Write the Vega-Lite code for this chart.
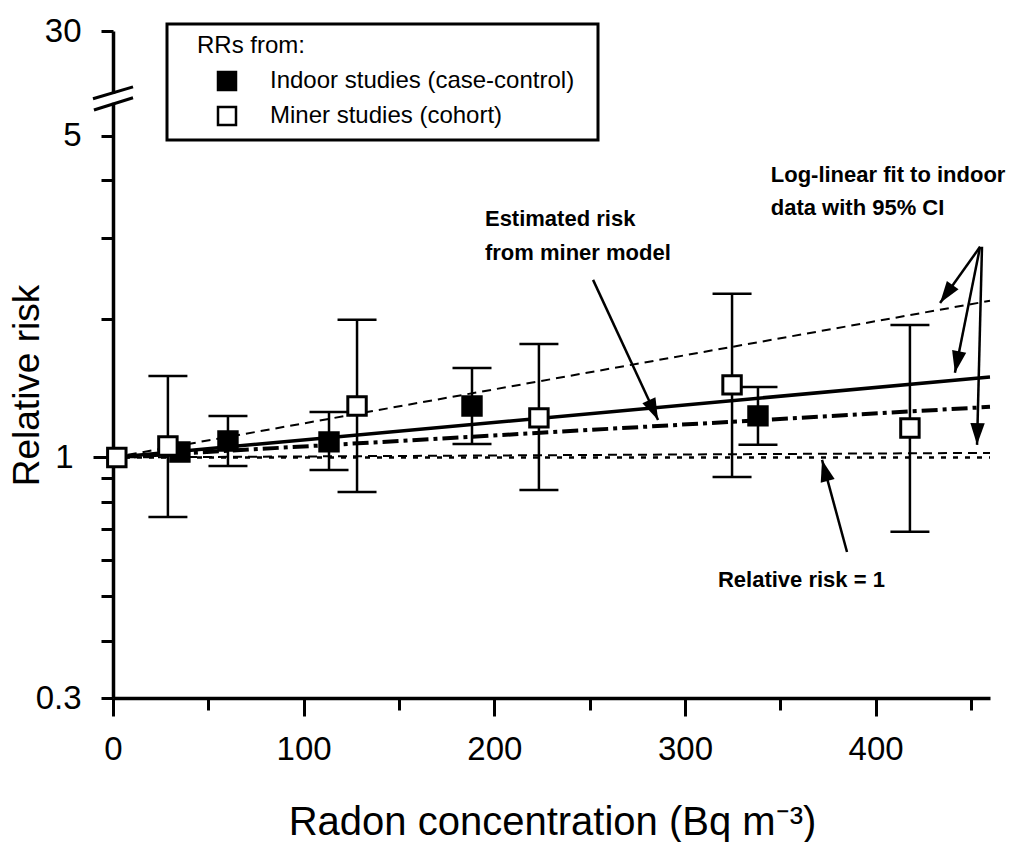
{
  "$schema": "https://vega.github.io/schema/vega-lite/v6.json",
  "width": 877,
  "height": 667,
  "autosize": {"type": "none"},
  "padding": {"left": 113, "top": 31, "right": 24, "bottom": 144},
  "background": "white",
  "config": {
    "view": {"stroke": null},
    "font": "Liberation Sans",
    "axis": {"domainColor": "black", "tickColor": "black", "labelColor": "black", "titleColor": "black", "labelFont": "Liberation Sans", "titleFont": "Liberation Sans", "grid": false, "titleFontWeight": "normal"},
    "legend": {"strokeWidth": 3}
  },
  "datasets": {
    "lines": [
      {"series": "upper95", "x": 0, "y": 1}, {"series": "upper95", "x": 460, "y": 2.19},
      {"series": "fit", "x": 0, "y": 1}, {"series": "fit", "x": 460, "y": 1.496},
      {"series": "lower95", "x": 0, "y": 1}, {"series": "lower95", "x": 460, "y": 1.023},
      {"series": "miner", "x": 0, "y": 1}, {"series": "miner", "x": 460, "y": 1.288},
      {"series": "rr1", "x": 0, "y": 1}, {"series": "rr1", "x": 460, "y": 1}
    ],
    "points": [
      {"type": "Indoor studies (case-control)", "x": 35.1, "y": 1.028, "lo": null, "hi": null},
      {"type": "Indoor studies (case-control)", "x": 60.3, "y": 1.086, "lo": 0.958, "hi": 1.231},
      {"type": "Indoor studies (case-control)", "x": 113.3, "y": 1.081, "lo": 0.939, "hi": 1.256},
      {"type": "Indoor studies (case-control)", "x": 188.3, "y": 1.294, "lo": 1.07, "hi": 1.565},
      {"type": "Indoor studies (case-control)", "x": 338.3, "y": 1.231, "lo": 1.065, "hi": 1.423},
      {"type": "Miner studies (cohort)", "x": 2, "y": 1, "lo": null, "hi": null},
      {"type": "Miner studies (cohort)", "x": 28.8, "y": 1.059, "lo": 0.742, "hi": 1.503},
      {"type": "Miner studies (cohort)", "x": 128.0, "y": 1.294, "lo": 0.841, "hi": 1.991},
      {"type": "Miner studies (cohort)", "x": 223.4, "y": 1.219, "lo": 0.85, "hi": 1.765},
      {"type": "Miner studies (cohort)", "x": 324.7, "y": 1.438, "lo": 0.907, "hi": 2.268},
      {"type": "Miner studies (cohort)", "x": 418.0, "y": 1.159, "lo": 0.689, "hi": 1.941}
    ],
    "arrows": [
      {"id": "a1", "x": 251.8, "y": 2.432, "x2": 285.9, "y2": 1.206},
      {"id": "a2", "x": 454.8, "y": 2.869, "x2": 433.8, "y2": 2.167},
      {"id": "a3", "x": 454.8, "y": 2.869, "x2": 441.6, "y2": 1.527},
      {"id": "a4", "x": 455.8, "y": 2.869, "x2": 453.2, "y2": 1.065},
      {"id": "a5", "x": 385.0, "y": 0.623, "x2": 371.9, "y2": 0.9876}
    ],
    "slashes": [
      {"x": -10.5, "y": 6.02, "x2": 10.5, "y2": 6.39},
      {"x": -10.0, "y": 5.69, "x2": 10.5, "y2": 6.05}
    ],
    "gap": [{"x": -1.8, "x2": 1.8, "y": 5.9, "y2": 6.17}],
    "notes": [
      {"x": 195.1, "y": 3.3, "text": "Estimated risk"},
      {"x": 195.1, "y": 2.78, "text": "from miner model"},
      {"x": 345, "y": 4.11, "text": "Log-linear fit to indoor"},
      {"x": 345, "y": 3.49, "text": "data with 95% CI"},
      {"x": 317.3, "y": 0.5417, "text": "Relative risk = 1"}
    ]
  },
  "encoding": {
    "x": {
      "field": "x", "type": "quantitative",
      "scale": {"type": "linear", "domain": [0, 460], "nice": false, "zero": false},
      "axis": {
        "title": "Radon concentration (Bq m⁻³)",
        "values": [0, 50, 100, 150, 200, 250, 300, 350, 400, 450],
        "labelExpr": "datum.value % 100 === 0 ? datum.label : ''",
        "tickSize": {"condition": {"test": "datum.value % 100 === 0", "value": 18}, "value": 12},
        "tickWidth": 3, "domainWidth": 3.5,
        "labelFontSize": 33, "labelPadding": 17, "labelFlush": false, "labelOverlap": false,
        "titleFontSize": 40, "titleX": 439, "titleY": 136, "titleBaseline": "alphabetic", "titleAnchor": "middle", "titleAlign": "center"
      }
    },
    "y": {
      "field": "y", "type": "quantitative",
      "scale": {"type": "log", "domain": [0.3, 8.45], "nice": false},
      "axis": {
        "title": "Relative risk",
        "values": [0.3, 0.4, 0.5, 0.6, 0.7, 0.8, 0.9, 1, 2, 3, 4, 5, 8.45],
        "labelExpr": "datum.value > 8 ? '30' : datum.value == 5 ? '5' : datum.value == 1 ? '1' : datum.value == 0.3 ? '0.3' : ''",
        "tickSize": {"condition": {"test": "datum.value == 1", "value": 20}, "value": 12},
        "tickWidth": 3, "domainWidth": 3.5,
        "labelFontSize": 33, "labelPadding": 20, "labelFlush": false, "labelOverlap": false,
        "titleFontSize": 37, "titleAngle": 270, "titleX": -86, "titleY": 354, "titleBaseline": "middle", "titleAlign": "center", "titleAnchor": "middle"
      }
    }
  },
  "layer": [
    {
      "data": {"name": "lines"},
      "transform": [{"filter": "datum.series == 'upper95' || datum.series == 'lower95'"}],
      "mark": {"type": "line", "color": "black", "strokeWidth": 2, "strokeDash": [9, 6]},
      "encoding": {"detail": {"field": "series"}}
    },
    {
      "data": {"name": "lines"},
      "transform": [{"filter": "datum.series == 'rr1'"}],
      "mark": {"type": "line", "color": "black", "strokeWidth": 2.5, "strokeDash": [5, 7]},
      "encoding": {}
    },
    {
      "data": {"name": "lines"},
      "transform": [{"filter": "datum.series == 'fit'"}],
      "mark": {"type": "line", "color": "black", "strokeWidth": 3.5},
      "encoding": {}
    },
    {
      "data": {"name": "lines"},
      "transform": [{"filter": "datum.series == 'miner'"}],
      "mark": {"type": "line", "color": "black", "strokeWidth": 4, "strokeDash": [16, 5, 4, 5]},
      "encoding": {}
    },
    {
      "data": {"name": "points"},
      "transform": [{"filter": "datum.lo != null"}],
      "mark": {"type": "rule", "color": "black", "strokeWidth": 2.5},
      "encoding": {
        "y": {"field": "lo", "type": "quantitative", "scale": {"type": "log", "domain": [0.3, 8.45], "nice": false}},
        "y2": {"field": "hi"}
      }
    },
    {
      "data": {"name": "points"},
      "transform": [{"filter": "datum.lo != null"}],
      "mark": {"type": "tick", "orient": "horizontal", "size": 39, "thickness": 2.5, "color": "black", "opacity": 1},
      "encoding": {
        "y": {"field": "lo", "type": "quantitative", "scale": {"type": "log", "domain": [0.3, 8.45], "nice": false}}
      }
    },
    {
      "data": {"name": "points"},
      "transform": [{"filter": "datum.lo != null"}],
      "mark": {"type": "tick", "orient": "horizontal", "size": 39, "thickness": 2.5, "color": "black", "opacity": 1},
      "encoding": {
        "y": {"field": "hi", "type": "quantitative", "scale": {"type": "log", "domain": [0.3, 8.45], "nice": false}}
      }
    },
    {
      "data": {"name": "points"},
      "mark": {"type": "point", "shape": "square", "filled": true, "stroke": "black", "strokeWidth": 3, "size": 340, "opacity": 1},
      "encoding": {
        "fill": {
          "field": "type", "type": "nominal",
          "scale": {"domain": ["Indoor studies (case-control)", "Miner studies (cohort)"], "range": ["black", "white"]},
          "legend": {
            "orient": "none", "legendX": 54, "legendY": -7,
            "title": "\u200b\u00a0\u00a0\u00a0RRs from:",
            "titleFontSize": 24, "titleFontWeight": "normal", "titleColor": "black", "titlePadding": 11,
            "labelFontSize": 24, "labelColor": "black", "labelOffset": 31, "labelLimit": 500,
            "labelExpr": "datum.label + '\u00a0\u00a0\u200b'",
            "symbolType": "square", "symbolSize": 324, "symbolStrokeColor": "black", "symbolStrokeWidth": 2.5, "symbolOffset": 38,
            "padding": 10, "rowPadding": 7, "strokeColor": "black", "fillColor": "white"
          }
        }
      }
    },
    {
      "data": {"name": "arrows"},
      "mark": {"type": "rule", "color": "black", "strokeWidth": 2.5},
      "encoding": {"x2": {"field": "x2"}, "y2": {"field": "y2"}}
    },
    {
      "data": {"name": "arrows"},
      "transform": [{"filter": "datum.id == 'a1'"}],
      "mark": {"type": "point", "shape": "M0,0L0.33,1L-0.33,1Z", "size": 1900, "filled": true, "color": "black", "opacity": 1, "angle": 155.1},
      "encoding": {"x": {"field": "x2", "type": "quantitative"}, "y": {"field": "y2", "type": "quantitative", "scale": {"type": "log", "domain": [0.3, 8.45], "nice": false}}}
    },
    {
      "data": {"name": "arrows"},
      "transform": [{"filter": "datum.id == 'a2'"}],
      "mark": {"type": "point", "shape": "M0,0L0.33,1L-0.33,1Z", "size": 1900, "filled": true, "color": "black", "opacity": 1, "angle": 215.5},
      "encoding": {"x": {"field": "x2", "type": "quantitative"}, "y": {"field": "y2", "type": "quantitative", "scale": {"type": "log", "domain": [0.3, 8.45], "nice": false}}}
    },
    {
      "data": {"name": "arrows"},
      "transform": [{"filter": "datum.id == 'a3'"}],
      "mark": {"type": "point", "shape": "M0,0L0.33,1L-0.33,1Z", "size": 1900, "filled": true, "color": "black", "opacity": 1, "angle": 191.2},
      "encoding": {"x": {"field": "x2", "type": "quantitative"}, "y": {"field": "y2", "type": "quantitative", "scale": {"type": "log", "domain": [0.3, 8.45], "nice": false}}}
    },
    {
      "data": {"name": "arrows"},
      "transform": [{"filter": "datum.id == 'a4'"}],
      "mark": {"type": "point", "shape": "M0,0L0.33,1L-0.33,1Z", "size": 1900, "filled": true, "color": "black", "opacity": 1, "angle": 181.4},
      "encoding": {"x": {"field": "x2", "type": "quantitative"}, "y": {"field": "y2", "type": "quantitative", "scale": {"type": "log", "domain": [0.3, 8.45], "nice": false}}}
    },
    {
      "data": {"name": "arrows"},
      "transform": [{"filter": "datum.id == 'a5'"}],
      "mark": {"type": "point", "shape": "M0,0L0.33,1L-0.33,1Z", "size": 1900, "filled": true, "color": "black", "opacity": 1, "angle": 345.0},
      "encoding": {"x": {"field": "x2", "type": "quantitative"}, "y": {"field": "y2", "type": "quantitative", "scale": {"type": "log", "domain": [0.3, 8.45], "nice": false}}}
    },
    {
      "data": {"name": "gap"},
      "mark": {"type": "rect", "color": "white", "opacity": 1},
      "encoding": {"x2": {"field": "x2"}, "y2": {"field": "y2"}}
    },
    {
      "data": {"name": "slashes"},
      "mark": {"type": "rule", "color": "black", "strokeWidth": 3},
      "encoding": {"x2": {"field": "x2"}, "y2": {"field": "y2"}}
    },
    {
      "data": {"name": "notes"},
      "mark": {"type": "text", "align": "left", "baseline": "middle", "fontSize": 22, "fontWeight": "bold", "font": "Liberation Sans", "color": "black"},
      "encoding": {"text": {"field": "text"}}
    }
  ]
}
